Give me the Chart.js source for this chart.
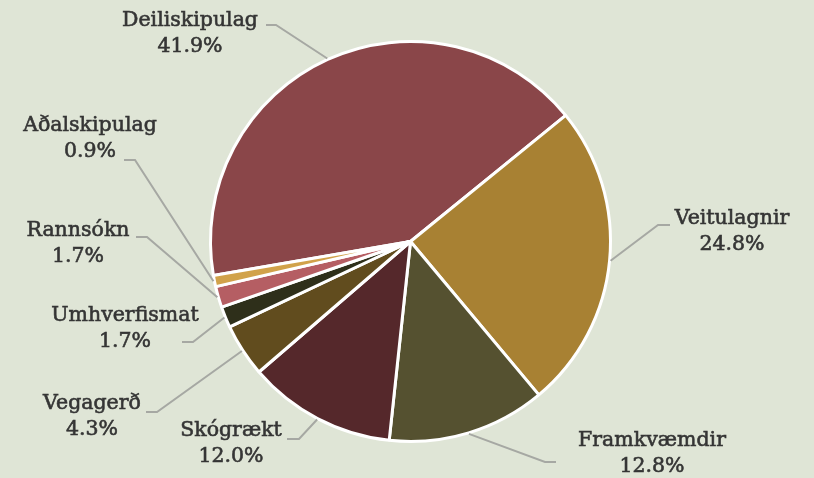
<!DOCTYPE html>
<html>
<head>
<meta charset="utf-8">
<script src="https://cdn.jsdelivr.net/npm/chart.js@4/dist/chart.umd.min.js"></script>
<style>
  html, body { margin: 0; padding: 0; background: #dfe5d6; }
  #wrap { width: 814px; height: 478px; }
</style>
</head>
<body>
<div id="wrap"><canvas id="pie"></canvas></div>
<script>
const categories = ['Deiliskipulag', 'Veitulagnir', 'Framkvæmdir', 'Skógrækt', 'Vegagerð', 'Umhverfismat', 'Rannsókn', 'Aðalskipulag']
const shares = [41.9, 24.8, 12.8, 12.0, 4.3, 1.7, 1.7, 0.9]
const shareLabels = ['41.9%', '24.8%', '12.8%', '12.0%', '4.3%', '1.7%', '1.7%', '0.9%']
const sliceColors = ['#8a4649', '#a88133', '#555130', '#55282b', '#614c1e', '#2e2f1a', '#b55e63', '#d1a24a']

// caption layout: text centre (x, first line y) and the short tick beside it [from, to, y]
const captionPos = [
    {x: 190, y: 21, tick: [266, 276, 25]},
    {x: 732, y: 219, tick: [670, 658, 225]},
    {x: 652, y: 441, tick: [556, 545, 462]},
    {x: 231, y: 431, tick: [287, 299, 439]},
    {x: 92, y: 404, tick: [146, 157, 412]},
    {x: 125, y: 316, tick: [182, 193, 342]},
    {x: 78, y: 231, tick: [136, 147, 237]},
    {x: 90, y: 126, tick: [124, 135, 160]}
]

const leaderLabels = {
    id: 'leaderLabels',
    afterDatasetsDraw(chart) {
        const ctx = chart.ctx
        const arcs = chart.getDatasetMeta(0).data
        ctx.save()
        arcs.forEach((arc, i) => {
            const p = arc.getProps(['x', 'y', 'startAngle', 'endAngle', 'outerRadius'], true)
            const mid = (p.startAngle + p.endAngle) / 2
            const ex = p.x + Math.cos(mid) * (p.outerRadius + 1)
            const ey = p.y + Math.sin(mid) * (p.outerRadius + 1)
            const c = captionPos[i]
            ctx.strokeStyle = '#a6a8a3'
            ctx.lineWidth = 2
            ctx.beginPath()
            ctx.moveTo(ex, ey)
            ctx.lineTo(c.tick[1], c.tick[2])
            ctx.lineTo(c.tick[0], c.tick[2])
            ctx.stroke()

            ctx.fillStyle = '#353535'
            ctx.strokeStyle = '#353535'
            ctx.lineWidth = 0.6
            ctx.font = '20.5px "DejaVu Serif"'
            ctx.textAlign = 'center'
            ctx.textBaseline = 'middle'
            ctx.fillText(categories[i], c.x, c.y)
            ctx.strokeText(categories[i], c.x, c.y)
            ctx.fillText(shareLabels[i], c.x, c.y + 26)
            ctx.strokeText(shareLabels[i], c.x, c.y + 26)
        })
        ctx.restore()
    }
}

new Chart(document.getElementById('pie'), {
    type: 'pie',
    data: {
        labels: categories,
        datasets: [{
            data: shares,
            backgroundColor: sliceColors,
            borderColor: '#ffffff',
            borderWidth: 3
        }]
    },
    options: {
        responsive: true,
        maintainAspectRatio: false,
        animation: false,
        rotation: -99.8,
        layout: {padding: {top: 40, bottom: 35, left: 209, right: 202}},
        plugins: {
            legend: {display: false},
            tooltip: {enabled: false}
        }
    },
    plugins: [leaderLabels]
})
</script>
</body>
</html>
